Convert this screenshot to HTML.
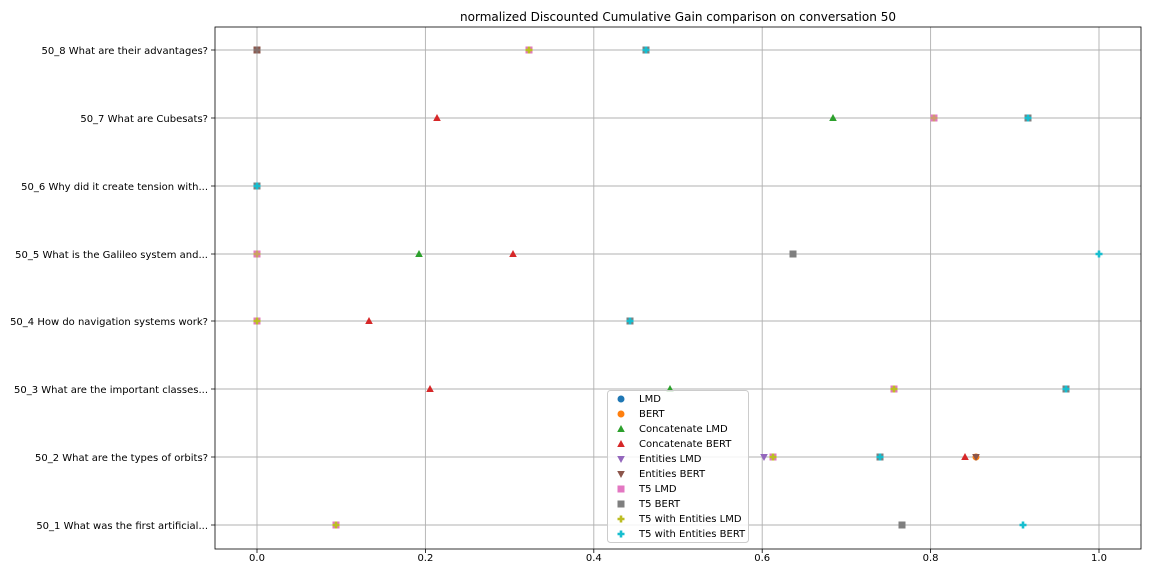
<!DOCTYPE html>
<html><head><meta charset="utf-8"><style>body{margin:0;background:#fff}</style></head><body>
<svg width="1152" height="576" xmlns="http://www.w3.org/2000/svg" font-family="DejaVu Sans, Liberation Sans, sans-serif">
<defs>
<g id="sq"><rect x="-3.5" y="-3.5" width="7" height="7"/></g>
<g id="pl"><path d="M-1.3,-3.5h2.6v2.2h2.2v2.6h-2.2v2.2h-2.6v-2.2h-2.2v-2.6h2.2z"/></g>
<g id="tu"><path d="M0,-4L3.8,3L-3.8,3z"/></g>
<g id="td"><path d="M0,4L3.8,-3L-3.8,-3z"/></g>
</defs>
<text x="678" y="21" font-size="12" text-anchor="middle" textLength="436" lengthAdjust="spacingAndGlyphs">normalized Discounted Cumulative Gain comparison on conversation 50</text>
<g stroke="#b0b0b0" stroke-width="0.9">
<line x1="257" y1="27" x2="257" y2="549"/><line x1="425.4" y1="27" x2="425.4" y2="549"/><line x1="593.8" y1="27" x2="593.8" y2="549"/><line x1="762.2" y1="27" x2="762.2" y2="549"/><line x1="930.6" y1="27" x2="930.6" y2="549"/><line x1="1099" y1="27" x2="1099" y2="549"/>
<line x1="215" y1="50" x2="1141" y2="50"/><line x1="215" y1="118" x2="1141" y2="118"/><line x1="215" y1="186" x2="1141" y2="186"/><line x1="215" y1="254" x2="1141" y2="254"/><line x1="215" y1="321" x2="1141" y2="321"/><line x1="215" y1="389" x2="1141" y2="389"/><line x1="215" y1="457" x2="1141" y2="457"/><line x1="215" y1="525" x2="1141" y2="525"/>
</g>
<rect x="215" y="27" width="926" height="522" fill="none" stroke="#000" stroke-width="0.8"/>
<g font-size="10" text-anchor="middle">
<text x="257" y="561">0.0</text><text x="425.4" y="561">0.2</text><text x="593.8" y="561">0.4</text><text x="762.2" y="561">0.6</text><text x="930.6" y="561">0.8</text><text x="1099" y="561">1.0</text>
</g>
<g stroke="#000" stroke-width="0.8"><path d="M257,549v4M425.4,549v4M593.8,549v4M762.2,549v4M930.6,549v4M1099,549v4M215,50h-4M215,118h-4M215,186h-4M215,254h-4M215,321h-4M215,389h-4M215,457h-4M215,525h-4"/></g>
<g font-size="10" text-anchor="end">
<text x="208" y="54">50_8 What are their advantages?</text>
<text x="208" y="122">50_7 What are Cubesats?</text>
<text x="208" y="190">50_6 Why did it create tension with...</text>
<text x="208" y="258">50_5 What is the Galileo system and...</text>
<text x="208" y="325">50_4 How do navigation systems work?</text>
<text x="208" y="393">50_3 What are the important classes...</text>
<text x="208" y="461">50_2 What are the types of orbits?</text>
<text x="208" y="529">50_1 What was the first artificial...</text>
</g>
<use href="#sq" x="257" y="50" fill="#8c564b"/><use href="#pl" x="257" y="50" fill="#7f7f7f" opacity="0.6"/>
<use href="#sq" x="529" y="50" fill="#e377c2"/><use href="#pl" x="529" y="50" fill="#bcbd22"/>
<use href="#sq" x="646" y="50" fill="#7f7f7f"/><use href="#pl" x="646" y="50" fill="#17becf"/>
<use href="#tu" x="437" y="118" fill="#d62728"/>
<use href="#tu" x="833" y="118" fill="#2ca02c"/>
<use href="#sq" x="934" y="118" fill="#e377c2"/><use href="#pl" x="934" y="118" fill="#bcbd22" opacity="0.5"/>
<use href="#sq" x="1028" y="118" fill="#7f7f7f"/><use href="#pl" x="1028" y="118" fill="#17becf"/>
<use href="#sq" x="257" y="186" fill="#7f7f7f"/><use href="#pl" x="257" y="186" fill="#17becf"/>
<use href="#sq" x="257" y="254" fill="#e377c2"/><use href="#pl" x="257" y="254" fill="#bcbd22" opacity="0.6"/>
<use href="#tu" x="419" y="254" fill="#2ca02c"/>
<use href="#tu" x="513" y="254" fill="#d62728"/>
<use href="#sq" x="793" y="254" fill="#7f7f7f"/>
<use href="#pl" x="1099" y="254" fill="#17becf"/>
<use href="#sq" x="257" y="321" fill="#e377c2"/><use href="#pl" x="257" y="321" fill="#bcbd22"/>
<use href="#tu" x="369" y="321" fill="#d62728"/>
<use href="#sq" x="630" y="321" fill="#7f7f7f"/><use href="#pl" x="630" y="321" fill="#17becf"/>
<use href="#tu" x="430" y="389" fill="#d62728"/>
<use href="#tu" x="670" y="389" fill="#2ca02c"/>
<use href="#sq" x="894" y="389" fill="#e377c2"/><use href="#pl" x="894" y="389" fill="#bcbd22"/>
<use href="#sq" x="1066" y="389" fill="#7f7f7f"/><use href="#pl" x="1066" y="389" fill="#17becf"/>
<use href="#td" x="764" y="457" fill="#9467bd"/>
<use href="#sq" x="773" y="457" fill="#e377c2"/><use href="#pl" x="773" y="457" fill="#bcbd22"/>
<use href="#sq" x="880" y="457" fill="#7f7f7f"/><use href="#pl" x="880" y="457" fill="#17becf"/>
<use href="#tu" x="965" y="457" fill="#d62728"/>
<circle cx="976" cy="457" r="3.5" fill="#ff7f0e"/><use href="#td" x="976" y="457" fill="#8c564b"/>
<use href="#sq" x="336" y="525" fill="#e377c2"/><use href="#pl" x="336" y="525" fill="#bcbd22"/>
<use href="#sq" x="902" y="525" fill="#7f7f7f"/>
<use href="#pl" x="1023" y="525" fill="#17becf"/>
<rect x="607.5" y="390.5" width="141" height="152" rx="3" fill="#fff" fill-opacity="0.85" stroke="#ccc"/>
<g font-size="10">
<circle cx="621" cy="399" r="3.5" fill="#1f77b4"/><text x="639" y="402">LMD</text>
<circle cx="621" cy="414" r="3.5" fill="#ff7f0e"/><text x="639" y="417">BERT</text>
<use href="#tu" x="621" y="429" fill="#2ca02c"/><text x="639" y="432">Concatenate LMD</text>
<use href="#tu" x="621" y="444" fill="#d62728"/><text x="639" y="447">Concatenate BERT</text>
<use href="#td" x="621" y="459" fill="#9467bd"/><text x="639" y="462">Entities LMD</text>
<use href="#td" x="621" y="474" fill="#8c564b"/><text x="639" y="477">Entities BERT</text>
<use href="#sq" x="621" y="489" fill="#e377c2"/><text x="639" y="492">T5 LMD</text>
<use href="#sq" x="621" y="504" fill="#7f7f7f"/><text x="639" y="507">T5 BERT</text>
<use href="#pl" x="621" y="519" fill="#bcbd22"/><text x="639" y="522">T5 with Entities LMD</text>
<use href="#pl" x="621" y="534" fill="#17becf"/><text x="639" y="537">T5 with Entities BERT</text>
</g>
</svg>
</body></html>
